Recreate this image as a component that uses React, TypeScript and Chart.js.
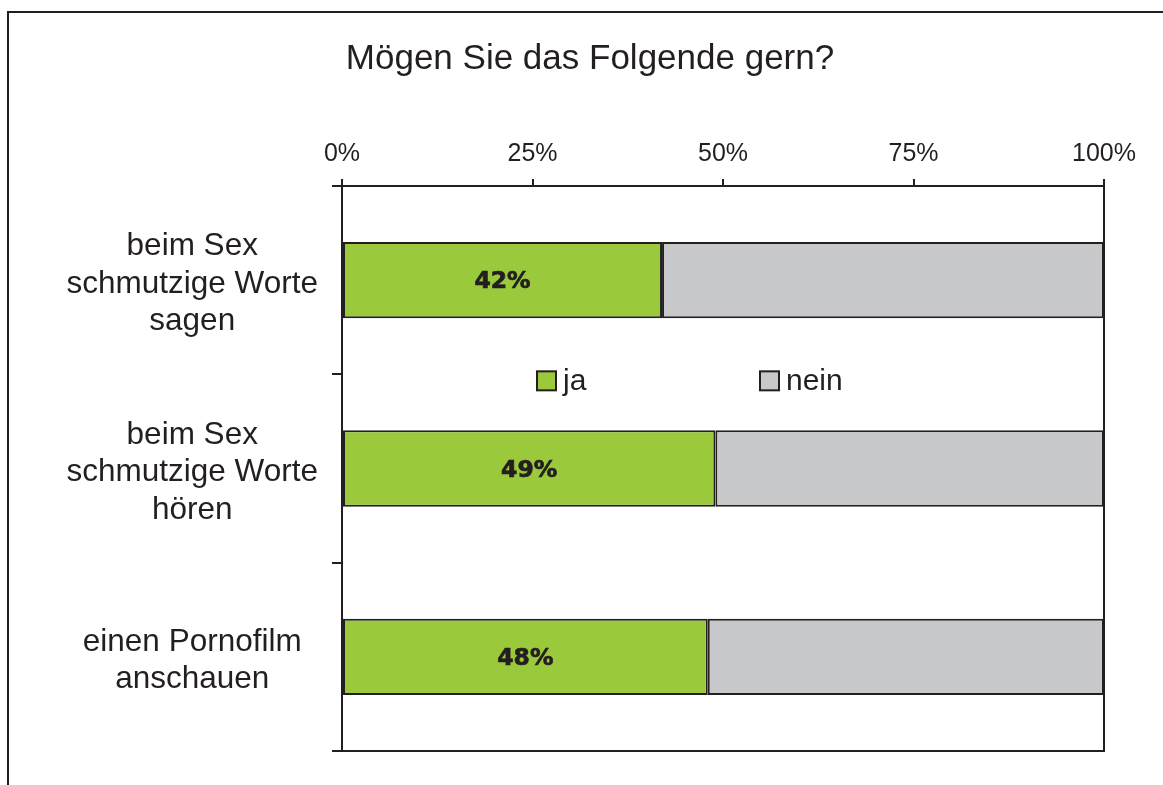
import React, { useEffect, useRef } from "react";
import { Chart, registerables } from "chart.js";

Chart.register(...registerables);

const TITLE = "Mögen Sie das Folgende gern?";
const categories: string[][] = [
  ["beim Sex", "schmutzige Worte", "sagen"],
  ["beim Sex", "schmutzige Worte", "hören"],
  ["einen Pornofilm", "anschauen"],
];
const jaValues = [42, 49, 48];
const neinValues = [58, 51, 52];
const seriesNames = ["ja", "nein"];
const xTicks = [0, 25, 50, 75, 100];

const DARK = "#231F20";
const GREEN = "#9ACA3C";
const GRAY = "#C7C8CA";
const FONT = "'Liberation Sans', Arial, sans-serif";

export default function App() {
  const ref = useRef<HTMLCanvasElement | null>(null);

  useEffect(() => {
    if (!ref.current) return;

    const decor = {
      id: "decor",
      beforeDraw(chart: any) {
        const ctx = chart.ctx;
        ctx.save();
        ctx.fillStyle = "#ffffff";
        ctx.fillRect(0, 0, chart.width, chart.height);
        // outer frame (left + top)
        ctx.strokeStyle = DARK;
        ctx.lineWidth = 2;
        ctx.beginPath();
        ctx.moveTo(8, 785);
        ctx.lineTo(8, 12);
        ctx.lineTo(1163, 12);
        ctx.stroke();
        // title
        ctx.fillStyle = DARK;
        ctx.font = `35px ${FONT}`;
        ctx.textAlign = "center";
        ctx.textBaseline = "alphabetic";
        ctx.fillText(TITLE, 590, 69);
        ctx.restore();
      },
      afterDatasetsDraw(chart: any) {
        const ctx = chart.ctx;
        const a = chart.chartArea;
        ctx.save();
        // right and bottom border of plot
        ctx.strokeStyle = DARK;
        ctx.lineWidth = 2;
        ctx.beginPath();
        ctx.moveTo(a.right, a.top);
        ctx.lineTo(a.right, a.bottom);
        ctx.lineTo(a.left, a.bottom);
        ctx.stroke();
        // value labels on first dataset
        const meta = chart.getDatasetMeta(0);
        ctx.fillStyle = DARK;
        ctx.strokeStyle = DARK;
        ctx.lineWidth = 0.7;
        ctx.font = `bold 23.5px 'DejaVu Sans', sans-serif`;
        ctx.textAlign = "center";
        ctx.textBaseline = "middle";
        meta.data.forEach((el: any, i: number) => {
          const v = chart.data.datasets[0].data[i];
          const tx = (el.x + el.base) / 2;
          ctx.fillText(v + "%", tx, el.y + 2);
          ctx.strokeText(v + "%", tx, el.y + 2);
        });
        // legend
        const ly = chart.scales.y.getPixelForValue(0.5) + 6;
        const items = [
          { x: 537, text: chart.data.datasets[0].label, color: GREEN },
          { x: 760, text: chart.data.datasets[1].label, color: GRAY },
        ];
        ctx.font = `30px ${FONT}`;
        ctx.textAlign = "left";
        ctx.textBaseline = "middle";
        items.forEach((it) => {
          ctx.fillStyle = it.color;
          ctx.fillRect(it.x, ly - 9, 19, 19);
          ctx.strokeStyle = DARK;
          ctx.lineWidth = 2;
          ctx.strokeRect(it.x, ly - 9, 19, 19);
          ctx.fillStyle = DARK;
          ctx.fillText(it.text, it.x + 26, ly + 1);
        });
        ctx.restore();
      },
    };

    const chart = new Chart(ref.current, {
      type: "bar",
      data: {
        labels: categories,
        datasets: [
          {
            label: seriesNames[0],
            data: jaValues,
            backgroundColor: GREEN,
            borderColor: DARK,
            borderWidth: 2,
            borderSkipped: false,
            barPercentage: 0.405,
            categoryPercentage: 1,
          },
          {
            label: seriesNames[1],
            data: neinValues,
            backgroundColor: GRAY,
            borderColor: DARK,
            borderWidth: 2,
            borderSkipped: false,
            barPercentage: 0.405,
            categoryPercentage: 1,
          },
        ],
      },
      options: {
        indexAxis: "y",
        responsive: false,
        animation: false,
        layout: { padding: { left: 0, top: 0, right: 59, bottom: 34 } },
        plugins: {
          legend: { display: false },
          title: { display: false },
          tooltip: { enabled: false },
        },
        scales: {
          x: {
            position: "top",
            stacked: true,
            min: 0,
            max: 100,
            afterBuildTicks(scale: any) {
              scale.ticks = xTicks.map((v) => ({ value: v }));
            },
            afterFit(scale: any) {
              scale.height = 186;
              scale.paddingLeft = 0;
              scale.paddingRight = 0;
            },
            ticks: {
              callback: (v: any) => v + "%",
              color: DARK,
              font: { family: FONT, size: 25 },
              padding: 10,
              maxRotation: 0,
            },
            grid: {
              drawOnChartArea: false,
              drawTicks: true,
              tickLength: 7,
              color: DARK,
              lineWidth: 2,
            },
            border: { display: true, color: DARK, width: 2 },
          },
          y: {
            stacked: true,
            afterFit(scale: any) {
              scale.width = 342;
              scale.paddingTop = 0;
              scale.paddingBottom = 0;
            },
            ticks: {
              color: DARK,
              font: { family: FONT, size: 31.5, lineHeight: 1.19 },
              padding: 14,
              crossAlign: "center",
              labelOffset: 4,
            },
            grid: {
              offset: true,
              drawOnChartArea: false,
              drawTicks: true,
              tickLength: 10,
              color: DARK,
              lineWidth: 2,
            },
            border: { display: true, color: DARK, width: 2 },
          },
        },
      },
      plugins: [decor],
    } as any);

    return () => chart.destroy();
  }, []);

  return (
    <div style={{ position: "absolute", left: 0, top: 0, width: 1163, height: 785 }}>
      <canvas ref={ref} width={1163} height={785} style={{ display: "block" }} />
    </div>
  );
}
